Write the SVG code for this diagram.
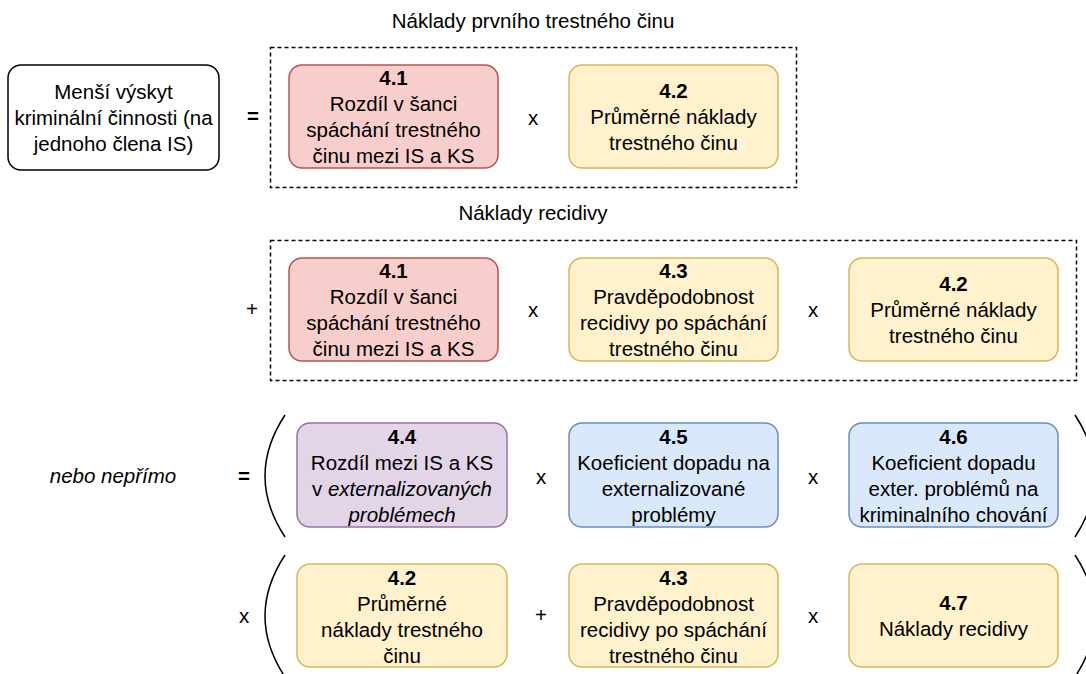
<svg xmlns="http://www.w3.org/2000/svg" width="1086" height="674" viewBox="0 0 1086 674">
<style>
text{font-family:"Liberation Sans",Arial,sans-serif;font-size:20.5px;fill:#000;text-anchor:middle;dominant-baseline:central}
.b{font-weight:bold}
.i{font-style:italic}
.red{fill:#f8cecc;stroke:#b85450;stroke-width:1.5}
.yel{fill:#fff2cc;stroke:#d6b656;stroke-width:1.5}
.pur{fill:#e1d5e7;stroke:#9673a6;stroke-width:1.5}
.blu{fill:#dae8fc;stroke:#6c8ebf;stroke-width:1.5}
.wht{fill:#fff;stroke:#000;stroke-width:1.5}
.dash{fill:none;stroke:#000;stroke-width:1.5;stroke-dasharray:4 3}
.paren{fill:none;stroke:#000;stroke-width:1.5}
</style>
<rect width="1086" height="674" fill="#fff"/>
<g id="labels">
<text x="533" y="20">Náklady prvního trestného činu</text>
<text x="533" y="212">Náklady recidivy</text>
<text x="113" y="475" class="i">nebo nepřímo</text>
</g>
<g id="groups">
<rect id="group1" class="dash" x="270.5" y="47.5" width="526" height="140"/>
<rect id="group2" class="dash" x="270.5" y="240.5" width="806" height="140"/>
</g>
<g id="result">
<rect class="wht" x="8" y="65" width="211" height="105" rx="13"/>
<text x="113.5" y="91">Menší výskyt</text>
<text x="113.5" y="117">kriminální činnosti (na</text>
<text x="113.5" y="143">jednoho člena IS)</text>
</g>
<g id="n41a">
<rect class="red" x="289" y="65" width="209" height="103" rx="13"/>
<text x="393.5" y="77.5" class="b">4.1</text>
<text x="393.5" y="103.5">Rozdíl v šanci</text>
<text x="393.5" y="129.5">spáchání trestného</text>
<text x="393.5" y="155.5">činu mezi IS a KS</text>
</g>
<g id="n42a">
<rect class="yel" x="569" y="65" width="209" height="103" rx="13"/>
<text x="673.5" y="90.5" class="b">4.2</text>
<text x="673.5" y="116.5">Průměrné náklady</text>
<text x="673.5" y="142.5">trestného činu</text>
</g>
<g id="n41b">
<rect class="red" x="289" y="258" width="209" height="103" rx="13"/>
<text x="393.5" y="270.5" class="b">4.1</text>
<text x="393.5" y="296.5">Rozdíl v šanci</text>
<text x="393.5" y="322.5">spáchání trestného</text>
<text x="393.5" y="348.5">činu mezi IS a KS</text>
</g>
<g id="n43a">
<rect class="yel" x="569" y="258" width="209" height="103" rx="13"/>
<text x="673.5" y="270.5" class="b">4.3</text>
<text x="673.5" y="296.5">Pravděpodobnost</text>
<text x="673.5" y="322.5">recidivy po spáchání</text>
<text x="673.5" y="348.5">trestného činu</text>
</g>
<g id="n42b">
<rect class="yel" x="849" y="258" width="209" height="103" rx="13"/>
<text x="953.5" y="283.5" class="b">4.2</text>
<text x="953.5" y="309.5">Průměrné náklady</text>
<text x="953.5" y="335.5">trestného činu</text>
</g>
<g id="n44">
<rect class="pur" x="297" y="423" width="210" height="104" rx="13"/>
<text x="402" y="436" class="b">4.4</text>
<text x="402" y="462">Rozdíl mezi IS a KS</text>
<text x="402" y="488">v <tspan class="i">externalizovaných</tspan></text>
<text x="402" y="514" class="i">problémech</text>
</g>
<g id="n45">
<rect class="blu" x="569" y="423" width="209" height="104" rx="13"/>
<text x="673.5" y="436" class="b">4.5</text>
<text x="673.5" y="462">Koeficient dopadu na</text>
<text x="673.5" y="488">externalizované</text>
<text x="673.5" y="514">problémy</text>
</g>
<g id="n46">
<rect class="blu" x="849" y="423" width="209" height="104" rx="13"/>
<text x="953.5" y="436" class="b">4.6</text>
<text x="953.5" y="462">Koeficient dopadu</text>
<text x="953.5" y="488">exter. problémů na</text>
<text x="953.5" y="514">kriminalního chování</text>
</g>
<g id="n42c">
<rect class="yel" x="297" y="564" width="210" height="103" rx="13"/>
<text x="402" y="577" class="b">4.2</text>
<text x="402" y="603">Průměrné</text>
<text x="402" y="629">náklady trestného</text>
<text x="402" y="655">činu</text>
</g>
<g id="n43b">
<rect class="yel" x="569" y="564" width="209" height="103" rx="13"/>
<text x="673.5" y="577" class="b">4.3</text>
<text x="673.5" y="603">Pravděpodobnost</text>
<text x="673.5" y="629">recidivy po spáchání</text>
<text x="673.5" y="655">trestného činu</text>
</g>
<g id="n47">
<rect class="yel" x="849" y="564" width="209" height="103" rx="13"/>
<text x="953.5" y="602.5" class="b">4.7</text>
<text x="953.5" y="628.5">Náklady recidivy</text>
</g>
<g id="connectors">
<text x="253" y="115" class="b">=</text>
<text x="533" y="117">x</text>
<text x="252" y="308">+</text>
<text x="533" y="309">x</text>
<text x="813" y="309">x</text>
<text x="244" y="475" class="b">=</text>
<text x="541" y="476">x</text>
<text x="813" y="476">x</text>
<text x="244" y="615">x</text>
<text x="541" y="614">+</text>
<text x="813" y="615">x</text>
<path class="paren" d="M285,415 Q245,476 285,537"/>
<path class="paren" d="M1075,415 Q1115,476 1075,537"/>
<path class="paren" d="M285,555 Q245,616 285,677"/>
<path class="paren" d="M1075,555 Q1115,616 1075,677"/>
</g>
</svg>
